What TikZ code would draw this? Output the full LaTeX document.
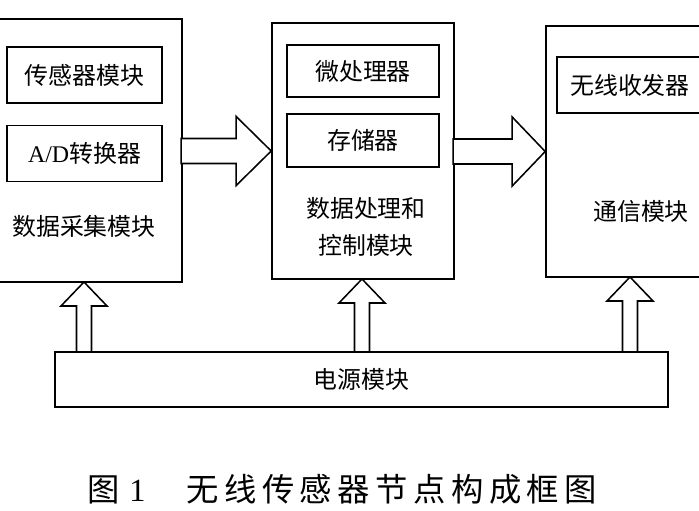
\documentclass[tikz,border=0pt]{standalone}
\usepackage{fontspec}
\setmainfont{Noto Sans CJK SC}
\newfontfamily\latin{Liberation Serif}
\newfontfamily\capfont[LetterSpace=17]{Noto Sans CJK SC}
\usetikzlibrary{positioning}

\tikzset{
  box/.style={rectangle, draw=black, line width=1.1pt, inner sep=0pt},
  blockarrow/.style={draw=black, line width=1.1pt, fill=white, line join=miter},
  every node/.append style={font=\fontsize{17}{20}\selectfont},
}

\begin{document}
\begin{tikzpicture}[x=0.025cm, y=-0.025cm]
    \useasboundingbox (0,0) rectangle (699,511);

    % data acquisition module
    \node [box, minimum width=4.675cm, minimum height=6.575cm] (daq) at (88.5,150.5) {};
    \node [box, minimum width=3.875cm, minimum height=1.4cm] (sensor) at (84.5,75) {传感器模块};
    \node [box, minimum width=3.875cm, minimum height=1.4cm] (adc) at (84.5,153.5) {{\latin A/D}转换器};
    \node (daqlabel) at (84,226) {数据采集模块};

    % processing and control module
    \node [box, minimum width=4.55cm, minimum height=6.4cm] (proc) at (363,151) {};
    \node [box, minimum width=3.8cm, minimum height=1.3cm] (mcu) at (363,71) {微处理器};
    \node [box, minimum width=3.8cm, minimum height=1.325cm] (mem) at (363,140.5) {存储器};
    \node [align=center, font=\fontsize{17}{26}\selectfont] (proclabel) at (366,227) {数据处理和\\控制模块};

    % communication module
    \node [box, minimum width=4.15cm, minimum height=6.275cm] (comm) at (629,151.5) {};
    \node [box, minimum width=3.65cm, minimum height=1.4cm] (radio) at (630,85) {无线收发器};
    \node (commlabel) at (641,211) {通信模块};

    % power module
    \node [box, minimum width=15.325cm, minimum height=1.375cm] (power) at (361.5,379.5) {电源模块};

    % data flow
    \draw[blockarrow, shift={(proc.west)}] (0,0) -- (-35,-34.5) -- (-35,-12.5) -- (-90,-12.5)
        -- (-90,12.5) -- (-35,12.5) -- (-35,34.5) -- cycle;
    \draw[blockarrow, shift={(comm.west)}] (0,0) -- (-33,-34.5) -- (-33,-12.5) -- (-92,-12.5)
        -- (-92,12.5) -- (-33,12.5) -- (-33,34.5) -- cycle;

    % supply
    \coordinate (tipA) at (84,282);
    \coordinate (tipB) at (362,279);
    \coordinate (tipC) at (630,277);
    \draw[blockarrow, shift={(tipA)}] (0,0) -- (-23,24) -- (-7.5,24) -- (-7.5,70) -- (7.5,70) -- (7.5,24) -- (23,24) -- cycle;
    \draw[blockarrow, shift={(tipB)}] (0,0) -- (-23,24) -- (-7.5,24) -- (-7.5,73) -- (7.5,73) -- (7.5,24) -- (23,24) -- cycle;
    \draw[blockarrow, shift={(tipC)}] (0,0) -- (-23,24) -- (-7.5,24) -- (-7.5,75) -- (7.5,75) -- (7.5,24) -- (23,24) -- cycle;

    % caption
    \node [anchor=west, inner sep=0pt, font=\fontsize{23}{26}\selectfont] (caption) at (87,489)
        {{\capfont 图}\hspace{7pt}{\latin 1}\hspace{29pt}{\capfont 无线传感器节点构成框图}};
\end{tikzpicture}
\end{document}
